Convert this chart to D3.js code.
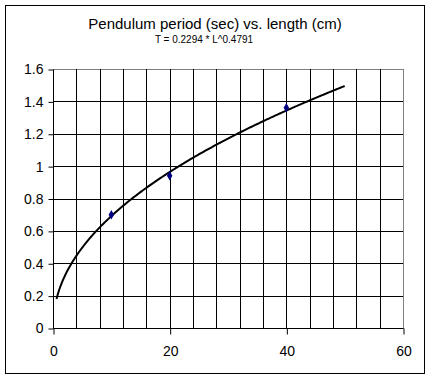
<!DOCTYPE html>
<html><head><meta charset="utf-8">
<script src="https://cdn.jsdelivr.net/npm/d3@7"></script>
<style>body{margin:0;background:#fff;} svg{display:block;font-family:Arial,"Liberation Sans",sans-serif;}</style>
</head><body>
<script>
const title = "Pendulum period (sec) vs. length (cm)";
const subtitle = "T = 0.2294 * L^0.4791";
const lengths = [10, 20, 40];
const periods = [0.70, 0.94, 1.36];
const xTicks = [0, 20, 40, 60];
const yTicks = [0, 0.2, 0.4, 0.6, 0.8, 1, 1.2, 1.4, 1.6];
const xGrid = [0,4,8,12,16,20,24,28,32,36,40,44,48,52,56,60];
const trendCoef = 0.2294, trendExp = 0.4791;
const trendRange = [0.6, 50];

const W = 430, H = 379;
const svg = d3.select("body").append("svg").attr("width", W).attr("height", H);
svg.append("rect").attr("x", 5.5).attr("y", 5.5).attr("width", 419).attr("height", 368)
  .attr("fill", "#fff").attr("stroke", "#000").attr("stroke-width", 1);

const x = d3.scaleLinear().domain([0, 60]).range([53, 403]);
const y = d3.scaleLinear().domain([0, 1.6]).range([328, 69]);

// plot border (gray top/right)
svg.append("rect").attr("x", x(0)+0.5).attr("y", y(1.6)+0.5)
  .attr("width", x(60)-x(0)).attr("height", y(0)-y(1.6))
  .attr("fill", "none").attr("stroke", "#808080");

// grid
const g = svg.append("g").attr("stroke", "#000").attr("stroke-width", 1);
g.selectAll(".vg").data(xGrid.filter(d => d > 0 && d < 60)).join("line")
  .attr("x1", d => Math.round(x(d))+0.5).attr("x2", d => Math.round(x(d))+0.5)
  .attr("y1", y(1.6)).attr("y2", y(0));
g.selectAll(".hg").data(yTicks.filter(d => d > 0 && d < 1.6)).join("line")
  .attr("y1", d => Math.round(y(d))+0.5).attr("y2", d => Math.round(y(d))+0.5)
  .attr("x1", x(0)).attr("x2", x(60));

// axes
const xAxis = d3.axisBottom(x).tickValues(xTicks).tickSize(6).tickPadding(12).tickFormat(d3.format("d"));
const yAxis = d3.axisLeft(y).tickValues(yTicks).tickSize(5).tickPadding(5).tickFormat(d => String(d));
const gx = svg.append("g").attr("transform", `translate(0.5,${Math.round(y(0))+0.5})`).call(xAxis);
const gy = svg.append("g").attr("transform", `translate(${Math.round(x(0))+0.5},0.5)`).call(yAxis);
[gx, gy].forEach(a => {
  a.select(".domain").attr("stroke", "#000").attr("d", a === gx ? `M${x(0)},0H${x(60)}` : `M0,${y(0)}V${y(1.6)}`);
  a.selectAll(".tick line").attr("stroke", "#000");
  a.selectAll("text").attr("fill", "#000").style("font-size", "14px").style("font-family", "Arial, 'Liberation Sans', sans-serif");
});

// trendline
const trendL = d3.range(0, 201).map(i => trendRange[0] + (trendRange[1]-trendRange[0]) * i / 200);
const line = d3.line().x(d => x(d)).y(d => y(trendCoef * Math.pow(d, trendExp)));
svg.append("path").datum(trendL).attr("d", line).attr("fill", "none")
  .attr("stroke", "#000").attr("stroke-width", 2);

// points
svg.selectAll(".pt").data(lengths.map((l, i) => [l, periods[i]])).join("path")
  .attr("d", d3.symbol(d3.symbolDiamond, 26)())
  .attr("transform", d => `translate(${x(d[0])},${y(d[1])})`)
  .attr("fill", "#000080");

// titles
svg.append("text").attr("x", 215).attr("y", 29).attr("text-anchor", "middle")
  .style("font-size", "15px").text(title);
svg.append("text").attr("x", 204).attr("y", 43).attr("text-anchor", "middle")
  .style("font-size", "10px").text(subtitle);
</script>
</body></html>
